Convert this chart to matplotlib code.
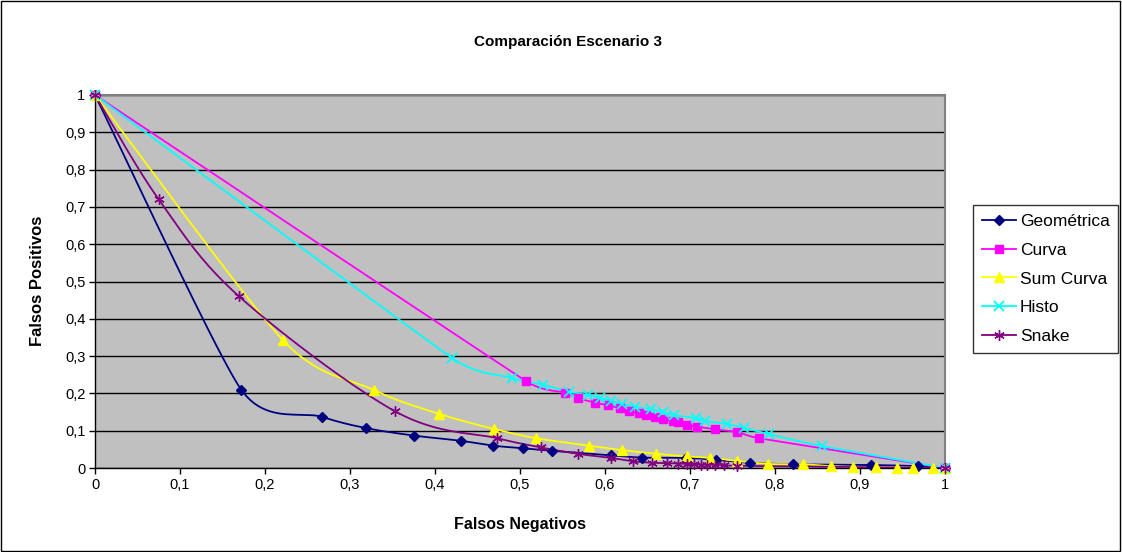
import numpy as np
import matplotlib
matplotlib.use("Agg")
import matplotlib.pyplot as plt
from matplotlib.lines import Line2D
from matplotlib.patches import Rectangle
from matplotlib.ticker import FixedLocator, FuncFormatter

plt.rcParams['font.family'] = ['Liberation Sans', 'DejaVu Sans']

# ---- data: (Falsos Negativos, Falsos Positivos) per method ----
geo_x = [0, 0.172, 0.267, 0.319, 0.375, 0.43, 0.468, 0.503, 0.538, 0.607, 0.643,
         0.695, 0.73, 0.771, 0.821, 0.913, 0.968, 1.0]
geo_y = [1, 0.21, 0.137, 0.107, 0.087, 0.073, 0.06, 0.053, 0.046, 0.034, 0.028,
         0.027, 0.022, 0.014, 0.01, 0.008, 0.005, 0.0]

curva_x = [0, 0.507, 0.553, 0.568, 0.588, 0.604, 0.618, 0.628, 0.64, 0.648, 0.659,
           0.668, 0.68, 0.686, 0.696, 0.708, 0.729, 0.755, 0.781, 1.0]
curva_y = [1, 0.233, 0.202, 0.188, 0.175, 0.168, 0.16, 0.152, 0.147, 0.142, 0.137,
           0.132, 0.126, 0.122, 0.116, 0.111, 0.104, 0.096, 0.08, 0.0]

sum_x = [0, 0.221, 0.328, 0.405, 0.469, 0.519, 0.581, 0.62, 0.66, 0.696, 0.724,
         0.755, 0.792, 0.833, 0.866, 0.892, 0.919, 0.944, 0.962, 0.986, 1.0]
sum_y = [1, 0.343, 0.209, 0.145, 0.105, 0.08, 0.06, 0.048, 0.038, 0.031, 0.027,
         0.019, 0.011, 0.01, 0.005, 0.003, 0.002, 0.001, 0.001, 0.0, 0.0]

histo_x = [0, 0.42, 0.491, 0.527, 0.558, 0.58, 0.594, 0.607, 0.62, 0.635, 0.654,
           0.668, 0.681, 0.707, 0.718, 0.744, 0.764, 0.793, 0.855, 1.0]
histo_y = [1, 0.295, 0.241, 0.223, 0.204, 0.196, 0.188, 0.18, 0.172, 0.164, 0.158,
           0.15, 0.142, 0.134, 0.126, 0.118, 0.107, 0.091, 0.059, 0.0]

snake_x = [0, 0.075, 0.169, 0.353, 0.473, 0.525, 0.568, 0.607, 0.633, 0.655, 0.673,
           0.686, 0.697, 0.705, 0.713, 0.72, 0.729, 0.74, 0.755, 1.0]
snake_y = [1, 0.72, 0.461, 0.152, 0.08, 0.055, 0.038, 0.027, 0.018, 0.014, 0.013,
           0.012, 0.011, 0.01, 0.009, 0.009, 0.008, 0.007, 0.006, 0.0]

series = [
    ("Geométrica", geo_x, geo_y, "#000080", "D", 5.5),
    ("Curva", curva_x, curva_y, "#FF00FF", "s", 6.0),
    ("Sum Curva", sum_x, sum_y, "#FFFF00", "^", 7.0),
    ("Histo", histo_x, histo_y, "#00FFFF", "x", 6.5),
    ("Snake", snake_x, snake_y, "#800080", (6, 2, 0), 7.5),
]

ticks = [i / 10 for i in range(11)]


def fmt(v, _pos):
    s = f"{v:.1f}".rstrip("0").rstrip(".")
    return s.replace(".", ",")


def smooth(ax, xs, ys, steps=24):
    """Bezier smoothing through the points, computed in screen space."""
    P = ax.transData.transform(np.column_stack([xs, ys]))
    n = len(P)
    out = [P[0]]
    tang = []
    for i in range(n):
        a = P[max(i - 1, 0)]
        b = P[min(i + 1, n - 1)]
        t = (b - a) / 6.0
        lims = []
        if i > 0:
            lims.append(np.linalg.norm(P[i] - P[i - 1]))
        if i < n - 1:
            lims.append(np.linalg.norm(P[i + 1] - P[i]))
        lim = min(lims) / 2.0
        norm = np.linalg.norm(t)
        if norm > lim and norm > 0:
            t = t * lim / norm
        tang.append(t)
    tt = np.linspace(0, 1, steps)[1:]
    for i in range(n - 1):
        p0, p3 = P[i], P[i + 1]
        c1, c2 = p0 + tang[i], p3 - tang[i + 1]
        for t in tt:
            out.append((1 - t) ** 3 * p0 + 3 * (1 - t) ** 2 * t * c1
                       + 3 * (1 - t) * t ** 2 * c2 + t ** 3 * p3)
    D = ax.transData.inverted().transform(np.array(out))
    return D[:, 0], D[:, 1]


fig = plt.figure(figsize=(11.22, 5.52), dpi=100)
fig.patches.append(Rectangle((0.0005, 0.001), 0.998, 0.997, transform=fig.transFigure,
                             fill=False, edgecolor="black", linewidth=1.0))

ax = fig.add_axes([95 / 1122, 1 - 468 / 552, 850 / 1122, 373 / 552])
ax.set_facecolor("#C0C0C0")
ax.set_xlim(0, 1)
ax.set_ylim(0, 1)

ax.xaxis.set_major_locator(FixedLocator(ticks))
ax.yaxis.set_major_locator(FixedLocator(ticks))
ax.xaxis.set_major_formatter(FuncFormatter(fmt))
ax.yaxis.set_major_formatter(FuncFormatter(fmt))
ax.tick_params(axis="both", direction="out", length=4, width=1.0, color="black",
               labelsize=10.5, pad=3)
ax.grid(axis="y", color="black", linewidth=1.0)
ax.set_axisbelow(True)

for side in ("left", "bottom"):
    ax.spines[side].set_color("black")
    ax.spines[side].set_linewidth(1.0)
for side in ("top", "right"):
    ax.spines[side].set_color("#808080")
    ax.spines[side].set_linewidth(1.5)

handles = []
for name, xs, ys, col, mk, ms in series:
    sx, sy = smooth(ax, xs, ys)
    ax.plot(sx, sy, color=col, linewidth=1.3, zorder=3)
    mew = 1.3 if mk in ("x",) else 1.0
    ax.plot(xs, ys, linestyle="none", marker=mk, markersize=ms, color=col,
            markeredgecolor=col, markeredgewidth=mew, zorder=4, clip_on=False)
    handles.append(Line2D([], [], color=col, linewidth=1.3, marker=mk, markersize=ms,
                          markeredgecolor=col, markeredgewidth=mew))

leg = fig.legend(handles, [s[0] for s in series], loc="upper left",
                 bbox_to_anchor=(973 / 1122, 1 - 205 / 552), borderaxespad=0,
                 fontsize=12.5, frameon=True, fancybox=False, handlelength=2.0,
                 handletextpad=0.2, labelspacing=0.79, borderpad=0.5)
leg.get_frame().set_edgecolor("black")
leg.get_frame().set_linewidth(1.0)

fig.text(0.506, 1 - 42 / 552, "Comparación Escenario 3", ha="center", va="center",
         fontsize=11, fontweight="bold")
fig.text(520 / 1122, 1 - 524 / 552, "Falsos Negativos", ha="center", va="center",
         fontsize=11.5, fontweight="bold")
fig.text(38 / 1122, 1 - 281 / 552, "Falsos Positivos", ha="center", va="center",
         rotation=90, fontsize=12, fontweight="bold")

fig.savefig("out.png", dpi=100)
